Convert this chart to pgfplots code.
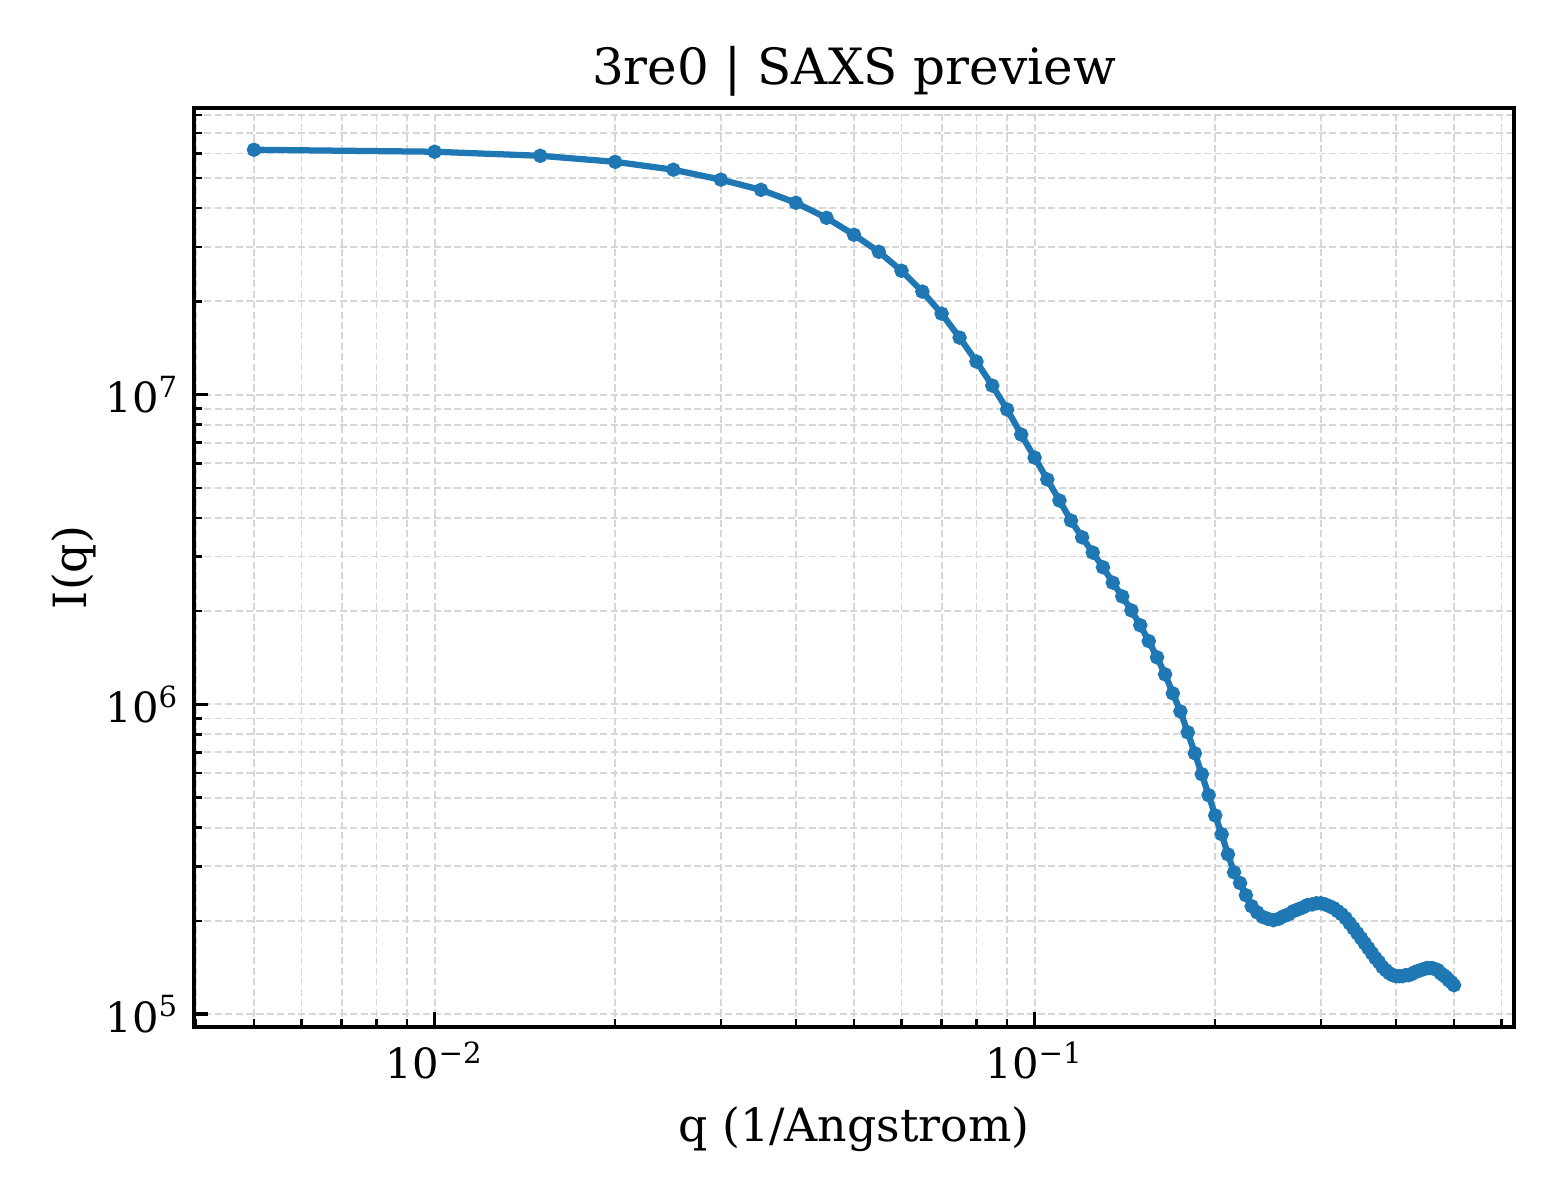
\documentclass[border=0pt]{standalone}
\usepackage{fontspec}
\setmainfont{DejaVu Serif}
\usepackage{pgfplots}
\pgfplotsset{compat=1.18}

\definecolor{tabblue}{RGB}{31,119,180}
\definecolor{gridgray}{RGB}{215,215,215}

\begin{document}
\begin{tikzpicture}
\begin{axis}[
    at={(0pt,0pt)}, anchor=south west,
    scale only axis,
    width=316.8pt, height=220.56pt,
    xmode=log, ymode=log,
    xmin=0.003972, xmax=0.6295,
    ymin=9.09e4, ymax=8.42e7,
    xtick={0.01,0.1},
    xticklabels={10\textsuperscript{−2},10\textsuperscript{−1}},
    ytick={1e5,1e6,1e7},
    yticklabels={10\textsuperscript{5},10\textsuperscript{6},10\textsuperscript{7}},
    minor xtick={0.004,0.005,0.006,0.007,0.008,0.009,0.02,0.03,0.04,0.05,0.06,0.07,0.08,0.09,0.2,0.3,0.4,0.5,0.6},
    minor ytick={2e5,3e5,4e5,5e5,6e5,7e5,8e5,9e5,2e6,3e6,4e6,5e6,6e6,7e6,8e6,9e6,2e7,3e7,4e7,5e7,6e7,7e7,8e7},
    xtick pos=lower, ytick pos=left,
    tick align=inside,
    major tick length=3.5pt, minor tick length=2pt,
    every major tick/.style={black, line width=0.8pt},
    every minor tick/.style={black, line width=0.6pt},
    ticklabel style={font=\fontsize{10}{12}\selectfont},
    axis line style={line width=1.1pt},
    grid=both,
    major grid style={gridgray, line width=0.45pt, dash pattern=on 1.7pt off 0.8pt},
    minor grid style={gridgray, line width=0.45pt, dash pattern=on 1.7pt off 0.8pt},
]
\addplot[color=tabblue, line width=1.5pt, mark=*, mark size=0.95pt,
         mark options={solid, fill=tabblue, draw=tabblue}]
coordinates {
(0.005,6.17e7)(0.010,6.08e7)(0.015,5.90e7)(0.020,5.64e7)(0.025,5.32e7)
(0.030,4.94e7)(0.035,4.58e7)(0.040,4.16e7)(0.045,3.72e7)(0.050,3.28e7)
(0.055,2.89e7)(0.060,2.51e7)(0.065,2.15e7)(0.070,1.825e7)(0.075,1.527e7)
(0.080,1.278e7)(0.085,1.069e7)(0.090,8.95e6)(0.095,7.43e6)(0.100,6.26e6)
(0.105,5.32e6)(0.110,4.55e6)(0.115,3.92e6)(0.120,3.46e6)(0.125,3.09e6)
(0.130,2.77e6)(0.135,2.47e6)(0.140,2.23e6)(0.145,2.01e6)(0.150,1.80e6)
(0.155,1.60e6)(0.160,1.418e6)(0.165,1.250e6)(0.170,1.085e6)(0.175,9.49e5)
(0.180,8.12e5)(0.185,6.95e5)(0.190,5.95e5)(0.195,5.09e5)(0.200,4.38e5)
(0.205,3.81e5)(0.210,3.28e5)(0.215,2.87e5)(0.220,2.65e5)(0.225,2.42e5)
(0.230,2.23e5)(0.235,2.13e5)(0.240,2.06e5)(0.245,2.03e5)(0.250,2.01e5)
(0.255,2.03e5)(0.260,2.07e5)(0.265,2.10e5)(0.270,2.15e5)(0.275,2.18e5)
(0.280,2.21e5)(0.285,2.25e5)(0.290,2.26e5)(0.295,2.28e5)(0.300,2.28e5)
(0.305,2.26e5)(0.310,2.23e5)(0.315,2.20e5)(0.320,2.15e5)(0.325,2.10e5)
(0.330,2.04e5)(0.335,1.966e5)(0.340,1.894e5)(0.345,1.825e5)(0.350,1.759e5)
(0.355,1.694e5)(0.360,1.633e5)(0.365,1.573e5)(0.370,1.516e5)(0.375,1.472e5)
(0.380,1.418e5)(0.385,1.387e5)(0.390,1.356e5)(0.395,1.336e5)(0.400,1.326e5)
(0.405,1.326e5)(0.410,1.326e5)(0.415,1.336e5)(0.420,1.336e5)(0.425,1.346e5)
(0.430,1.366e5)(0.435,1.376e5)(0.440,1.387e5)(0.445,1.397e5)(0.450,1.408e5)
(0.455,1.408e5)(0.460,1.408e5)(0.465,1.397e5)(0.470,1.387e5)(0.475,1.356e5)
(0.480,1.336e5)(0.485,1.316e5)(0.490,1.287e5)(0.495,1.268e5)(0.500,1.240e5)
};
\end{axis}
% title and axis labels, placed relative to the axis box
\node[anchor=base, font=\fontsize{12}{14}\selectfont] at (158.4pt,226.1pt) {3re0 | SAXS preview};
\node[anchor=base, font=\fontsize{11}{13}\selectfont] at (158.4pt,-27.6pt) {q (1/Angstrom)};
\node[anchor=base, rotate=90, font=\fontsize{11}{13}\selectfont] at (-25.7pt,110.28pt) {I(q)};
\pgfresetboundingbox
\useasboundingbox (-46.56pt,-41.52pt) rectangle (327.84pt,246.48pt);
\end{tikzpicture}
\end{document}
